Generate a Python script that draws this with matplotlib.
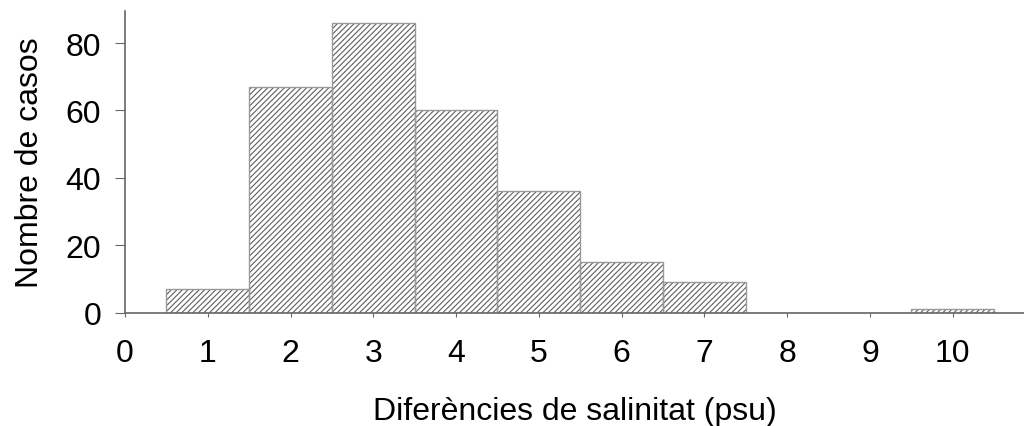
import matplotlib.pyplot as plt
import numpy as np

plt.rcParams['font.family'] = ['Liberation Sans', 'DejaVu Sans']
plt.rcParams['hatch.linewidth'] = 0.8

# Salinity difference classes (psu) and number of cases per class
classes = [1, 2, 3, 4, 5, 6, 7, 8, 9, 10]
cases = [7, 67, 86, 60, 36, 15, 9, 0, 0, 1]

fig = plt.figure(figsize=(10.24, 4.27), dpi=100)
ax = fig.add_axes([0.122, 0.265, 0.878, 0.707])

# hatched fill first, then a lighter outline on top
ax.bar(classes, cases, width=1.0, color='white', edgecolor='#5e5e5e',
       hatch='//////', linewidth=0)
ax.bar(classes, cases, width=1.0, fill=False, edgecolor='#999999',
       linewidth=1.0)

ax.set_xlim(0, 10.86)
ax.set_ylim(0, 89.5)
ax.set_xticks(range(0, 11))
ax.set_yticks([0, 20, 40, 60, 80])

ax.spines['top'].set_visible(False)
ax.spines['right'].set_visible(False)
for s in ('left', 'bottom'):
    ax.spines[s].set_color('#666666')
    ax.spines[s].set_linewidth(1.2)

ax.tick_params(axis='y', direction='out', length=7, color='#666666',
               labelsize=23, pad=10)
ax.tick_params(axis='x', direction='out', length=3, color='#666666',
               labelsize=23, pad=15)
ax.set_xlabel('Diferències de salinitat (psu)', fontsize=23, labelpad=20)
ax.set_ylabel('Nombre de casos', fontsize=23, labelpad=15)

fig.savefig('out.png', dpi=100)
